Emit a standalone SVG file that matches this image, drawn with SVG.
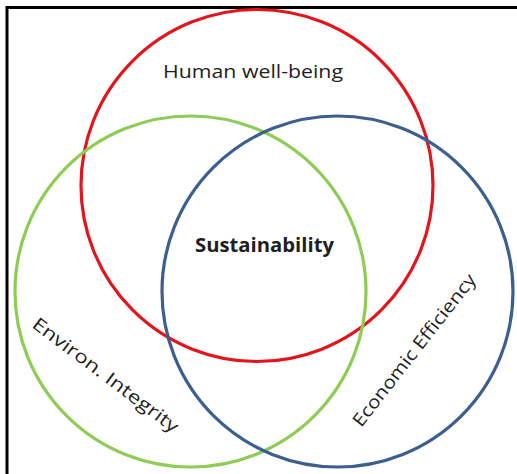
<svg xmlns="http://www.w3.org/2000/svg" width="517" height="474" viewBox="0 0 517 474">
<style>
  .ring { fill: none; stroke-width: 3.2; }
  .lbl { font-family: "Open Sans", "Liberation Sans", sans-serif; fill: #1e1e1e; }
</style>
<rect x="0" y="0" width="517" height="474" fill="#ffffff"/>
<g id="frame">
  <line x1="7" y1="7.5" x2="517" y2="7.5" stroke="#000" stroke-width="3"/>
  <line x1="7" y1="6" x2="7" y2="474" stroke="#000" stroke-width="3"/>
</g>
<g id="human-wellbeing">
  <circle class="ring" cx="257" cy="185.5" r="176" stroke="#e3141b"/>
  <text class="lbl" x="253" y="78" font-size="17.5" text-anchor="middle" textLength="180" lengthAdjust="spacingAndGlyphs">Human well-being</text>
</g>
<g id="environ-integrity">
  <circle class="ring" cx="190.5" cy="291.5" r="175.5" stroke="#8fcc55"/>
  <text class="lbl" x="102" y="380" font-size="18" text-anchor="middle" transform="rotate(37 102 380)" textLength="178" lengthAdjust="spacingAndGlyphs">Environ. Integrity</text>
</g>
<g id="economic-efficiency">
  <circle class="ring" cx="337.5" cy="291.5" r="175.5" stroke="#3d5f8f"/>
  <text class="lbl" x="419" y="354" font-size="18" text-anchor="middle" transform="rotate(-52 419 354)" textLength="188" lengthAdjust="spacingAndGlyphs">Economic Efficiency</text>
</g>
<g id="sustainability">
  <text class="lbl" x="264.5" y="252" font-size="19.5" font-weight="bold" fill="#111" text-anchor="middle" textLength="139" lengthAdjust="spacingAndGlyphs">Sustainability</text>
</g>
<g id="connectors"></g>
</svg>
